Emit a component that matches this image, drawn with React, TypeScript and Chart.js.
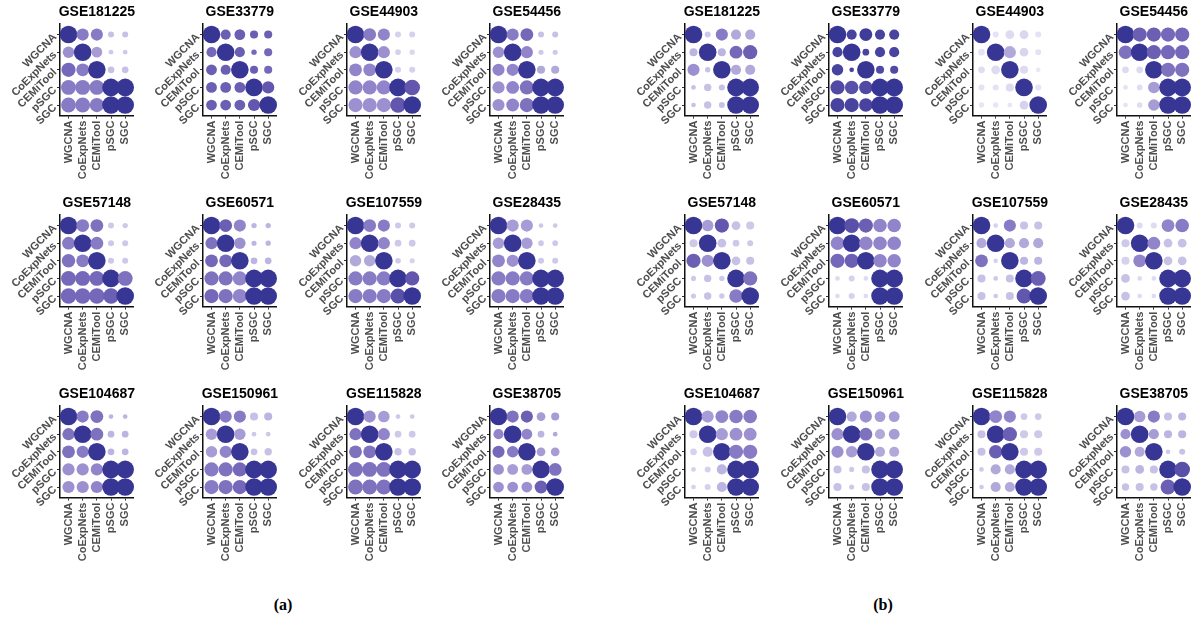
import React, { useEffect, useRef } from 'react';
import { Chart, registerables } from 'chart.js';

Chart.register(...registerables);
Chart.defaults.font.family = "'Liberation Sans', Arial, sans-serif";

// Methods compared in every panel (rows top-to-bottom, columns left-to-right)
const methods = ['WGCNA', 'CoExpNets', 'CEMiTool', 'pSGC', 'SGC'];

const titlesA = ['GSE181225', 'GSE33779', 'GSE44903', 'GSE54456', 'GSE57148', 'GSE60571', 'GSE107559', 'GSE28435', 'GSE104687', 'GSE150961', 'GSE115828', 'GSE38705'];
const titlesB = ['GSE181225', 'GSE33779', 'GSE44903', 'GSE54456', 'GSE57148', 'GSE60571', 'GSE107559', 'GSE28435', 'GSE104687', 'GSE150961', 'GSE115828', 'GSE38705'];

// (a) dot size values per dataset, 5x5 (row method x column method)
const sizeA = [
  [[1, .6, .6, .15, .15], [.55, 1, .5, .05, .05], [.75, .65, 1, .2, .2], [.8, .8, .8, 1, 1], [.8, .8, .75, 1, 1]],
  [[1, .45, .5, .3, .3], [.45, 1, .45, .1, .3], [.5, .45, 1, .3, .3], [.5, .5, .5, 1, .6], [.5, .5, .5, .6, 1]],
  [[1, .65, .6, .15, .15], [.6, 1, .6, .12, .1], [.65, .65, 1, .15, .15], [.75, .75, .75, 1, .85], [.75, .75, .75, .85, 1]],
  [[1, .6, .65, .15, .15], [.55, 1, .6, .08, .08], [.6, .6, 1, .3, .3], [.6, .65, .75, 1, 1], [.6, .65, .75, 1, 1]],
  [[1, .65, .65, .15, .1], [.65, 1, .65, .15, .15], [.7, .65, 1, .15, .15], [.8, .8, .8, 1, .8], [.85, .85, .85, .85, 1]],
  [[1, .65, .6, .1, .1], [.6, 1, .55, .08, .1], [.65, .65, 1, .2, .2], [.75, .75, .75, 1, 1], [.75, .75, .75, 1, 1]],
  [[1, .65, .6, .15, .15], [.6, 1, .6, .2, .2], [.55, .55, 1, .12, .08], [.75, .75, .75, 1, .75], [.75, .75, .75, .8, 1]],
  [[1, .6, .6, .05, .05], [.55, 1, .55, .12, .12], [.65, .6, 1, .15, .15], [.75, .75, .75, 1, 1], [.75, .75, .75, 1, 1]],
  [[1, .6, .65, .05, .05], [.6, 1, .65, .2, .2], [.65, .6, 1, .2, .2], [.6, .6, .6, 1, 1], [.6, .6, .6, 1, 1]],
  [[1, .6, .6, .3, .3], [.55, 1, .55, .05, .05], [.55, .6, 1, .2, .25], [.75, .75, .75, 1, 1], [.75, .75, .75, 1, 1]],
  [[1, .6, .55, .05, .05], [.6, 1, .6, .2, .2], [.65, .65, 1, .25, .25], [.8, .8, .8, 1, 1], [.8, .8, .8, 1, 1]],
  [[1, .6, .6, .35, .3], [.45, 1, .5, .2, .05], [.6, .55, 1, .35, .35], [.5, .5, .5, 1, .65], [.5, .5, .5, .65, 1]],
];

// (a) colour intensity values per dataset
const shadeA = [
  [[1, .55, .55, .25, .25], [.45, 1, .4, .2, .2], [.65, .55, 1, .25, .25], [.55, .55, .55, 1, 1], [.55, .55, .55, 1, 1]],
  [[1, .7, .7, .7, .7], [.65, 1, .7, .65, .65], [.7, .7, 1, .7, .65], [.7, .7, .7, 1, .75], [.7, .7, .7, .75, 1]],
  [[1, .55, .5, .15, .15], [.45, 1, .45, .15, .12], [.5, .5, 1, .15, .15], [.5, .5, .5, 1, .75], [.45, .45, .45, .75, 1]],
  [[1, .55, .65, .25, .25], [.45, 1, .5, .2, .2], [.5, .5, 1, .35, .35], [.45, .5, .6, 1, 1], [.45, .5, .6, 1, 1]],
  [[1, .55, .6, .2, .2], [.55, 1, .55, .2, .2], [.6, .55, 1, .2, .2], [.65, .65, .65, 1, .6], [.65, .65, .65, .7, 1]],
  [[1, .7, .5, .3, .3], [.6, 1, .45, .3, .3], [.65, .65, 1, .3, .3], [.6, .6, .5, 1, 1], [.65, .6, .5, 1, 1]],
  [[1, .55, .55, .2, .2], [.5, 1, .5, .2, .2], [.35, .35, 1, .2, .15], [.55, .55, .55, 1, .75], [.55, .55, .55, .8, 1]],
  [[1, .4, .4, .2, .2], [.4, 1, .4, .2, .2], [.5, .45, 1, .2, .2], [.55, .55, .55, 1, 1], [.55, .55, .55, 1, 1]],
  [[1, .55, .6, .3, .3], [.6, 1, .6, .3, .3], [.6, .55, 1, .3, .3], [.45, .45, .5, 1, 1], [.45, .45, .5, 1, 1]],
  [[1, .55, .55, .25, .3], [.4, 1, .4, .2, .2], [.4, .5, 1, .25, .25], [.55, .6, .65, 1, 1], [.55, .6, .65, 1, 1]],
  [[1, .45, .4, .2, .2], [.6, 1, .5, .2, .2], [.6, .6, 1, .25, .25], [.6, .6, .6, 1, 1], [.6, .6, .6, 1, 1]],
  [[1, .6, .7, .4, .4], [.5, 1, .5, .3, .35], [.65, .55, 1, .4, .4], [.45, .4, .4, 1, .6], [.45, .45, .45, .7, 1]],
];

// (b) dot size values per dataset
const sizeB = [
  [[1, .15, .6, .45, .45], [.3, 1, .3, .65, .75], [.6, .1, 1, .45, .45], [.05, .25, .15, 1, 1], [.05, .25, .15, 1, 1]],
  [[1, .45, .65, .45, .45], [.45, 1, .2, .45, .45], [.55, .05, 1, .3, .3], [.75, .7, .7, 1, 1], [.75, .75, .7, 1, 1]],
  [[1, .15, .35, .35, .15], [.2, 1, .6, .35, .15], [.2, .35, 1, .3, .05], [.15, .15, .3, 1, .15], [.1, .1, .05, .35, 1]],
  [[1, .75, .75, .75, .75], [.7, 1, .75, .75, .75], [.2, .2, 1, .75, .75], [.05, .12, .55, 1, 1], [.05, .12, .55, 1, 1]],
  [[1, .55, .75, .35, .3], [.3, 1, .35, .2, .15], [.75, .6, 1, .35, .3], [.08, .25, .1, 1, .75], [.08, .25, .1, .7, 1]],
  [[1, .8, .75, .7, .7], [.7, 1, .7, .7, .7], [.75, .75, 1, .7, .7], [.05, .15, .05, 1, 1], [.05, .15, .05, 1, 1]],
  [[1, .05, .6, .3, .3], [.45, 1, .45, .45, .45], [.65, .05, 1, .3, .3], [.3, .05, .3, 1, .8], [.3, .05, .3, .8, 1]],
  [[1, .15, .15, .65, .7], [.3, 1, .65, .35, .35], [.3, .65, 1, .35, .35], [.35, .05, .05, 1, 1], [.35, .05, .05, 1, 1]],
  [[1, .6, .65, .7, .7], [.3, 1, .6, .65, .65], [.2, .45, 1, .75, .75], [.05, .15, .45, 1, 1], [.05, .15, .45, 1, 1]],
  [[1, .45, .6, .5, .5], [.6, 1, .65, .45, .5], [.6, .55, 1, .45, .45], [.3, .08, .3, 1, 1], [.3, .08, .3, 1, 1]],
  [[1, .65, .6, .2, .2], [.3, 1, .75, .3, .3], [.3, .7, 1, .3, .3], [.05, .45, .45, 1, 1], [.05, .45, .45, 1, 1]],
  [[1, .55, .6, .3, .3], [.45, 1, .45, .3, .3], [.55, .45, 1, .05, .15], [.3, .35, .3, 1, .85], [.25, .3, .25, .8, 1]],
];

// (b) colour intensity values per dataset
const shadeB = [
  [[1, .2, .55, .35, .35], [.3, 1, .3, .65, .7], [.45, .25, 1, .35, .35], [.25, .25, .25, 1, 1], [.25, .25, .25, 1, 1]],
  [[1, .9, .95, .9, .9], [.9, 1, .9, .9, .9], [.9, .9, 1, .85, .85], [.85, .8, .85, 1, 1], [.9, .9, .9, 1, 1]],
  [[1, .05, .1, .12, .05], [.05, 1, .35, .12, .05], [.08, .1, 1, .1, .02], [.05, .05, .1, 1, .05], [.03, .03, .03, .15, 1]],
  [[1, .7, .7, .65, .65], [.6, 1, .7, .65, .65], [.1, .1, 1, .6, .6], [.05, .08, .4, 1, 1], [.05, .08, .4, 1, 1]],
  [[1, .4, .75, .25, .2], [.2, 1, .25, .2, .2], [.7, .45, 1, .25, .25], [.2, .25, .2, 1, .6], [.2, .25, .2, .55, 1]],
  [[1, .8, .7, .5, .5], [.5, 1, .5, .5, .5], [.65, .7, 1, .5, .5], [.1, .15, .1, 1, 1], [.1, .15, .1, 1, 1]],
  [[1, .15, .55, .25, .25], [.35, 1, .35, .35, .35], [.6, .15, 1, .3, .3], [.25, .2, .25, 1, .7], [.25, .2, .25, .75, 1]],
  [[1, .1, .1, .5, .55], [.2, 1, .5, .25, .25], [.15, .5, 1, .25, .25], [.25, .1, .1, 1, 1], [.25, .1, .1, 1, 1]],
  [[1, .4, .5, .55, .55], [.2, 1, .4, .45, .45], [.15, .25, 1, .55, .55], [.15, .15, .3, 1, 1], [.15, .15, .3, 1, 1]],
  [[1, .35, .45, .4, .4], [.45, 1, .6, .35, .4], [.45, .4, 1, .35, .35], [.25, .2, .25, 1, 1], [.25, .2, .25, 1, 1]],
  [[1, .5, .5, .2, .2], [.25, 1, .7, .2, .2], [.25, .7, 1, .2, .2], [.2, .35, .35, 1, 1], [.2, .35, .35, 1, 1]],
  [[1, .4, .55, .25, .3], [.45, 1, .4, .3, .3], [.45, .35, 1, .2, .25], [.25, .3, .25, 1, .8], [.25, .25, .25, .7, 1]],
];

// Gradient from pale lavender to deep indigo
const ramp = [
  [236, 234, 246],
  [200, 193, 230],
  [145, 132, 203],
  [98, 86, 174],
  [55, 54, 148],
];

function shadeColor(t: number): string {
  const p = Math.max(0, Math.min(1, t)) * (ramp.length - 1);
  const i = Math.min(Math.floor(p), ramp.length - 2);
  const f = p - i;
  const c = ramp[i].map((v, k) => Math.round(v + (ramp[i + 1][k] - v) * f));
  return `rgb(${c[0]},${c[1]},${c[2]})`;
}

function sizeRadius(s: number): number {
  return 2 + 6.8 * s;
}

// Panel geometry
const CANVAS_W = 143;
const CANVAS_H = 190;
const AREA_LEFT = 60;
const AREA_TOP = 24;
const AREA_W = 73.7;
const AREA_H = 91.6;

const axisXA = [60, 203, 347, 490];
const axisXB = [685, 829, 973, 1117];
const areaTops = [24, 215, 406];

function makeTextPlugin(title: string) {
  return {
    id: 'panelText',
    afterDraw(chart: any) {
      const { ctx, chartArea, scales } = chart;
      ctx.save();
      ctx.fillStyle = '#000';
      ctx.font = "bold 14px 'Liberation Sans', Arial, sans-serif";
      ctx.textAlign = 'center';
      ctx.textBaseline = 'alphabetic';
      ctx.fillText(title, (chartArea.left + chartArea.right) / 2, chartArea.top - 8);

      ctx.fillStyle = '#4d4d4d';
      ctx.font = "bold 11px 'Liberation Sans', Arial, sans-serif";
      methods.forEach((m, i) => {
        const y = scales.y.getPixelForValue(i);
        ctx.save();
        ctx.translate(chartArea.left - 5, y + 1);
        ctx.rotate(-Math.PI / 4);
        ctx.textAlign = 'right';
        ctx.textBaseline = 'middle';
        ctx.fillText(m, 0, 0);
        ctx.restore();
      });
      methods.forEach((m, i) => {
        const x = scales.x.getPixelForValue(i);
        ctx.save();
        ctx.translate(x, chartArea.bottom + 5);
        ctx.rotate(-Math.PI / 2);
        ctx.textAlign = 'right';
        ctx.textBaseline = 'middle';
        ctx.fillText(m, 0, 0);
        ctx.restore();
      });
      ctx.restore();
    },
  };
}

function axisOptions(reverse: boolean, fit: (s: any) => void) {
  return {
    type: 'linear' as const,
    min: -0.6,
    max: 4.6,
    reverse,
    bounds: 'data' as const,
    afterBuildTicks: (scale: any) => {
      scale.ticks = methods.map((_, i) => ({ value: i }));
    },
    afterFit: fit,
    ticks: { display: false },
    grid: {
      display: true,
      drawOnChartArea: false,
      drawTicks: true,
      tickLength: 3,
      tickColor: '#333',
      tickWidth: 1,
    },
    border: { display: true, color: '#111', width: 1.5 },
  };
}

type PanelProps = {
  title: string;
  sizes: number[][];
  shades: number[][];
  left: number;
  top: number;
};

function Panel({ title, sizes, shades, left, top }: PanelProps) {
  const ref = useRef<HTMLCanvasElement | null>(null);

  useEffect(() => {
    if (!ref.current) return;
    const points: any[] = [];
    sizes.forEach((row, r) =>
      row.forEach((s, c) => {
        points.push({ x: c, y: r, s, k: shades[r][c] });
      })
    );
    const chart = new Chart(ref.current, {
      type: 'bubble',
      data: {
        datasets: [
          {
            data: points,
            clip: false as any,
            borderWidth: 0,
            radius: (ctx: any) => sizeRadius(ctx.raw ? ctx.raw.s : 0),
            backgroundColor: (ctx: any) => shadeColor(ctx.raw ? ctx.raw.k : 0),
            hoverRadius: 0,
          } as any,
        ],
      },
      options: {
        responsive: false,
        animation: false,
        events: [],
        devicePixelRatio: 1,
        layout: {
          autoPadding: false,
          padding: {
            left: 0,
            top: AREA_TOP,
            right: CANVAS_W - AREA_LEFT - AREA_W,
            bottom: 0,
          },
        },
        plugins: {
          legend: { display: false },
          tooltip: { enabled: false },
          title: { display: false },
        },
        scales: {
          x: axisOptions(false, (s: any) => {
            s.height = CANVAS_H - AREA_TOP - AREA_H;
          }),
          y: axisOptions(true, (s: any) => {
            s.width = AREA_LEFT;
          }),
        } as any,
      },
      plugins: [makeTextPlugin(title)],
    });
    return () => chart.destroy();
  }, [title, sizes, shades]);

  return (
    <canvas
      ref={ref}
      width={CANVAS_W}
      height={CANVAS_H}
      style={{ position: 'absolute', left, top, width: CANVAS_W, height: CANVAS_H }}
    />
  );
}

export default function App() {
  const panels: React.ReactNode[] = [];
  titlesA.forEach((t, i) => {
    const col = i % 4;
    const row = Math.floor(i / 4);
    panels.push(
      <Panel
        key={'a' + i}
        title={t}
        sizes={sizeA[i]}
        shades={shadeA[i]}
        left={axisXA[col] - AREA_LEFT}
        top={areaTops[row] - AREA_TOP}
      />
    );
  });
  titlesB.forEach((t, i) => {
    const col = i % 4;
    const row = Math.floor(i / 4);
    panels.push(
      <Panel
        key={'b' + i}
        title={t}
        sizes={sizeB[i]}
        shades={shadeB[i]}
        left={axisXB[col] - AREA_LEFT}
        top={areaTops[row] - AREA_TOP}
      />
    );
  });

  const captionStyle: React.CSSProperties = {
    position: 'absolute',
    top: 595,
    width: 60,
    textAlign: 'center',
    fontFamily: "'Liberation Serif', 'DejaVu Serif', serif",
    fontWeight: 'bold',
    fontSize: 16,
    lineHeight: '20px',
    color: '#000',
  };

  return (
    <div
      style={{
        position: 'absolute',
        left: 0,
        top: 0,
        width: 1197,
        height: 621,
        background: '#fff',
        overflow: 'hidden',
      }}
    >
      {panels}
      <div style={{ ...captionStyle, left: 283 - 30 }}>(a)</div>
      <div style={{ ...captionStyle, left: 883 - 30 }}>(b)</div>
    </div>
  );
}
